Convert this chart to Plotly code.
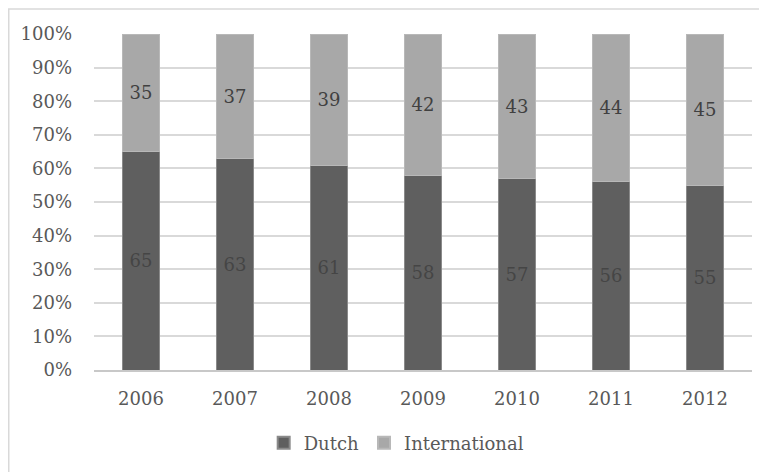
import plotly.graph_objects as go

years = ["2006", "2007", "2008", "2009", "2010", "2011", "2012"]
dutch = [65, 63, 61, 58, 57, 56, 55]
international = [35, 37, 39, 42, 43, 44, 45]
y_ticks = [0, 10, 20, 30, 40, 50, 60, 70, 80, 90, 100]
y_tick_labels = [f"{v}%" for v in y_ticks]

FONT = "DejaVu Serif"
# page has an 8px body margin, so the figure is sized/offset to compensate
W, H = 759, 464
L, R, T, B = 86, 15, 26, 102
pw, ph = W - L - R, H - T - B
bottom = H - B

fig = go.Figure()
fig.add_trace(go.Bar(
    x=years, y=dutch, name="Dutch",
    marker=dict(color="#5f5f5f", line=dict(color="#8a8a8a", width=1)),
    text=[str(v) for v in dutch], textposition="inside", insidetextanchor="middle",
    textfont=dict(family=FONT, size=18, color="#454545"),
))
fig.add_trace(go.Bar(
    x=years, y=international, name="International",
    marker=dict(color="#a8a8a8", line=dict(color="#b8b8b8", width=1)),
    text=[str(v) for v in international], textposition="inside", insidetextanchor="middle",
    textfont=dict(family=FONT, size=18, color="#404040"),
))

fig.update_layout(
    barmode="stack",
    bargap=0.6,
    width=W, height=H,
    margin=dict(l=L, r=R, t=T, b=B, autoexpand=False),
    paper_bgcolor="white", plot_bgcolor="white",
    font=dict(family=FONT, size=18, color="#595959"),
    uniformtext=dict(mode="show", minsize=18),
    legend=dict(orientation="h", x=0.46, xanchor="center", y=(bottom - 435) / ph, yanchor="middle",
                font=dict(family=FONT, size=18, color="#595959"), itemwidth=30,
                traceorder="normal", itemsizing="constant"),
    xaxis=dict(showgrid=False, showline=True, linecolor="#c8c8c8", linewidth=2,
               ticks="outside", ticklen=11, tickcolor="rgba(0,0,0,0)",
               tickfont=dict(family=FONT, size=18, color="#595959")),
    yaxis=dict(range=[0, 100], tickvals=y_ticks, ticktext=y_tick_labels,
               showgrid=True, gridcolor="#d9d9d9", gridwidth=1.5, zeroline=False,
               ticklabelstandoff=21, showline=False,
               tickfont=dict(family=FONT, size=18, color="#595959")),
    shapes=[dict(type="rect", xref="paper", yref="paper",
                 x0=(0.75 - L) / pw, x1=(W + 20 - L) / pw,
                 y0=(bottom - H - 20) / ph, y1=1 + (T - 1) / ph,
                 line=dict(color="#d9d9d9", width=1.5), fillcolor="rgba(0,0,0,0)", layer="below")],
)

fig.write_html("out.html")
